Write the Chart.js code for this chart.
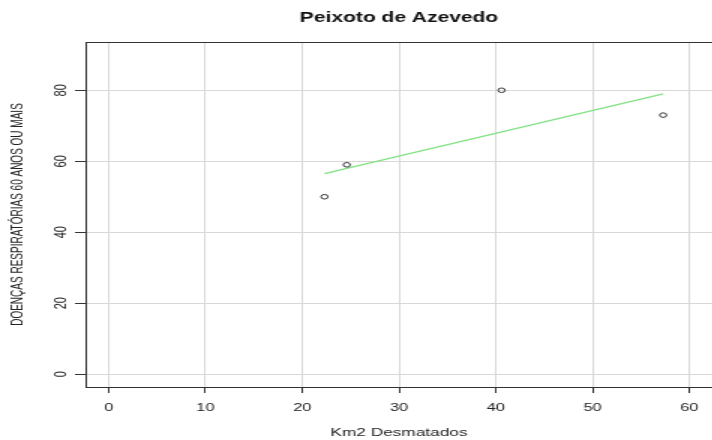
<!DOCTYPE html>
<html>
<head>
<meta charset="utf-8">
<script src="https://cdn.jsdelivr.net/npm/chart.js@4/dist/chart.umd.min.js"></script>
<style>
  html, body { margin: 0; padding: 0; background: #fff; }
  #wrap { width: 712px; height: 440px; overflow: hidden; }
  #c { display: block; }
</style>
</head>
<body>
<!-- canvas is drawn at 480px wide and widened to 720px, giving the wide lettering -->
<div id="wrap"><canvas id="c" width="480" height="440" style="width:720px;height:440px"></canvas></div>
<script>
// Observed pairs: deforested area (km²) vs. respiratory cases, 60+ years
const deforestKm2 = [22.3, 24.6, 40.6, 57.3];
const respCases = [50, 59, 80, 73];

// Fitted trend line end points
const fitX = [22.3, 57.3];
const fitY = [56.5, 79.0];

// Axis ticks and limits
const xTicks = [0, 10, 20, 30, 40, 50, 60];
const yTicks = [0, 20, 40, 60, 80];
const xLimits = [-2.4, 62.4];
const yLimits = [-3.6, 93.6];

const chartTitle = 'Peixoto de Azevedo';
const xTitle = 'Km2 Desmatados';
const yTitle = 'DOENÇAS RESPIRATÓRIAS 60 ANOS OU MAIS';

const FONT = "'Liberation Sans', Arial, Helvetica, sans-serif";
const INK = '#333333';
const GRID = '#d8d8d8';

// Full rectangle around the plotting region
const frame = {
  id: 'frame',
  afterDraw(chart) {
    const a = chart.chartArea, ctx = chart.ctx;
    ctx.save();
    ctx.strokeStyle = INK;
    ctx.lineWidth = 1;
    ctx.strokeRect(Math.round(a.left) + 0.5, Math.round(a.top) + 0.5,
                   Math.round(a.right - a.left), Math.round(a.bottom - a.top));
    ctx.restore();
  }
};

new Chart(document.getElementById('c'), {
  type: 'scatter',
  data: {
    datasets: [
      {
        label: 'obs',
        data: deforestKm2.map((x, i) => ({ x, y: respCases[i] })),
        pointStyle: 'circle',
        pointRadius: 2.3,
        pointBorderWidth: 1,
        pointBorderColor: INK,
        pointBackgroundColor: 'rgba(0,0,0,0)',
        showLine: false,
        order: 1
      },
      {
        label: 'fit',
        data: fitX.map((x, i) => ({ x, y: fitY[i] })),
        showLine: true,
        borderColor: '#84e284',
        borderWidth: 1.3,
        pointRadius: 0,
        fill: false,
        order: 2
      }
    ]
  },
  options: {
    responsive: false,
    devicePixelRatio: 1,
    animation: false,
    layout: { padding: { top: 0, right: 2.8, bottom: 0, left: 0 } },
    plugins: {
      legend: { display: false },
      tooltip: { enabled: false },
      title: {
        display: true,
        text: chartTitle,
        fullSize: false,
        color: '#111',
        font: { family: FONT, size: 14, weight: 'bold' },
        padding: { top: 10, bottom: 15.2 }
      }
    },
    scales: {
      x: {
        type: 'linear',
        min: xLimits[0],
        max: xLimits[1],
        afterBuildTicks: s => { s.ticks = xTicks.map(v => ({ value: v })); },
        afterFit: s => { s.height = 53; },
        grid: { color: GRID, lineWidth: 1, drawTicks: true, tickLength: 6, tickColor: INK },
        border: { display: false },
        ticks: { color: '#222', font: { family: FONT, size: 11 }, padding: 8, maxRotation: 0 },
        title: {
          display: true,
          text: xTitle,
          color: '#222',
          font: { family: FONT, size: 11.5 },
          padding: { top: 0, bottom: 0 }
        }
      },
      y: {
        type: 'linear',
        min: yLimits[0],
        max: yLimits[1],
        afterBuildTicks: s => { s.ticks = yTicks.map(v => ({ value: v })); },
        afterFit: s => { s.width = 57; },
        grid: { color: GRID, lineWidth: 1, drawTicks: true, tickLength: 7, tickColor: INK },
        border: { display: false },
        ticks: {
          color: '#222',
          font: { family: FONT, size: 11 },
          padding: 3,
          minRotation: 90,
          maxRotation: 90,
          crossAlign: 'center'
        },
        title: {
          display: true,
          text: yTitle,
          color: '#222',
          font: { family: FONT, size: 10 },
          padding: { top: 6, bottom: 0 }
        }
      }
    }
  },
  plugins: [frame]
});
</script>
</body>
</html>
